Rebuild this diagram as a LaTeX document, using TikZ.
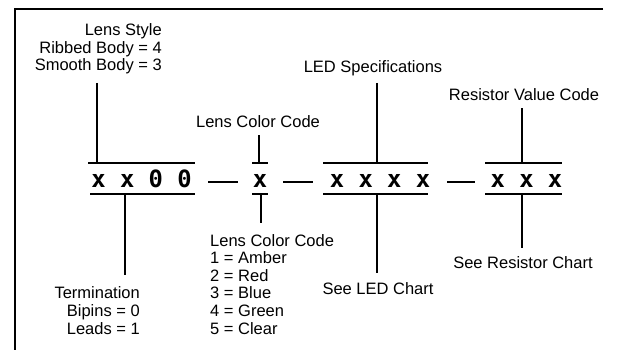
\documentclass[tikz,border=0pt]{standalone}
\usepackage{fontspec}
\newfontfamily\lblfont{Liberation Sans}
\newfontfamily\codefont{DejaVu Sans Mono}
\begin{document}
\begin{tikzpicture}[x=1pt,y=-1pt,
  lbl/.style={font=\lblfont\fontsize{16.5}{17.6}\selectfont, inner sep=0pt},
  code/.style={font=\codefont\bfseries\fontsize{23.8}{24}\selectfont, inner sep=0pt, anchor=base},
  bar/.style={line width=1.8pt},
  frame/.style={line width=1.3pt}]
\useasboundingbox (0,0) rectangle (636,350);
% frame
\coordinate (ftr) at (603,9);
\coordinate (ftl) at (15,9);
\coordinate (fbl) at (15,350);
\draw[frame] (ftr) -- (ftl) -- (fbl);

% code groups
\node[code] (g1) at (141.5,187) {x x 0 0};
\node[code] (g2) at (260,187) {x};
\node[code] (g3) at (380,187) {x x x x};
\node[code] (g4) at (526.5,187) {x x x};

% dashes
\coordinate (d1a) at (208,182); \coordinate (d1b) at (238,182);
\coordinate (d2a) at (283,182); \coordinate (d2b) at (313,182);
\coordinate (d3a) at (447,182); \coordinate (d3b) at (475,182);
\draw[bar] (d1a) -- (d1b);
\draw[bar] (d2a) -- (d2b);
\draw[bar] (d3a) -- (d3b);

% labels (multi-line nodes: base anchor is on the last line)
\node[lbl, align=right, anchor=base east] (lensstyle) at (162,71) {Lens Style\\Ribbed Body = 4\\Smooth Body = 3};
\node[lbl, anchor=base] (lcctop) at (258,128) {Lens Color Code};
\node[lbl, anchor=base] (ledspec) at (373,73) {LED Specifications};
\node[lbl, anchor=base] (resval) at (524,100) {Resistor Value Code};
\node[lbl, align=right, anchor=base east] (term) at (140,334) {Termination\\Bipins = 0\\Leads = 1};
\node[lbl, align=left, anchor=base west] (lccbot) at (210,334) {Lens Color Code\\1 = Amber\\2 = Red\\3 = Blue\\4 = Green\\5 = Clear};
\node[lbl, anchor=base] (ledchart) at (378,294) {See LED Chart};
\node[lbl, anchor=base] (reschart) at (523,268) {See Resistor Chart};

% group 1 bars
\coordinate (t1a) at (88,163); \coordinate (t1b) at (195,163);
\coordinate (t1m) at (97,163); \coordinate (t1e) at (97,83);
\coordinate (b1a) at (90,194); \coordinate (b1b) at (195,194);
\coordinate (b1m) at (125,194); \coordinate (b1e) at (125,275);
\draw[bar] (t1a) -- (t1b);
\draw[bar] (t1e) -- (t1m);
\draw[bar] (b1a) -- (b1b);
\draw[bar] (b1m) -- (b1e);

% group 2 bars
\coordinate (t2a) at (252,163); \coordinate (t2b) at (268,163);
\coordinate (t2m) at (259,163); \coordinate (t2e) at (259,135);
\coordinate (b2a) at (252,194); \coordinate (b2b) at (268,194);
\coordinate (b2m) at (261,194); \coordinate (b2e) at (261,223);
\draw[bar] (t2a) -- (t2b);
\draw[bar] (t2e) -- (t2m);
\draw[bar] (b2a) -- (b2b);
\draw[bar] (b2m) -- (b2e);

% group 3 bars
\coordinate (t3a) at (323,163); \coordinate (t3b) at (428,163);
\coordinate (t3m) at (377,163); \coordinate (t3e) at (377,83);
\coordinate (b3a) at (323,194); \coordinate (b3b) at (428,194);
\coordinate (b3m) at (377,194); \coordinate (b3e) at (377,273);
\draw[bar] (t3a) -- (t3b);
\draw[bar] (t3e) -- (t3m);
\draw[bar] (b3a) -- (b3b);
\draw[bar] (b3m) -- (b3e);

% group 4 bars
\coordinate (t4a) at (485,163); \coordinate (t4b) at (562,163);
\coordinate (t4m) at (522,163); \coordinate (t4e) at (522,108);
\coordinate (b4a) at (485,194); \coordinate (b4b) at (562,194);
\coordinate (b4m) at (522,194); \coordinate (b4e) at (522,248);
\draw[bar] (t4a) -- (t4b);
\draw[bar] (t4e) -- (t4m);
\draw[bar] (b4a) -- (b4b);
\draw[bar] (b4m) -- (b4e);
\end{tikzpicture}
\end{document}
